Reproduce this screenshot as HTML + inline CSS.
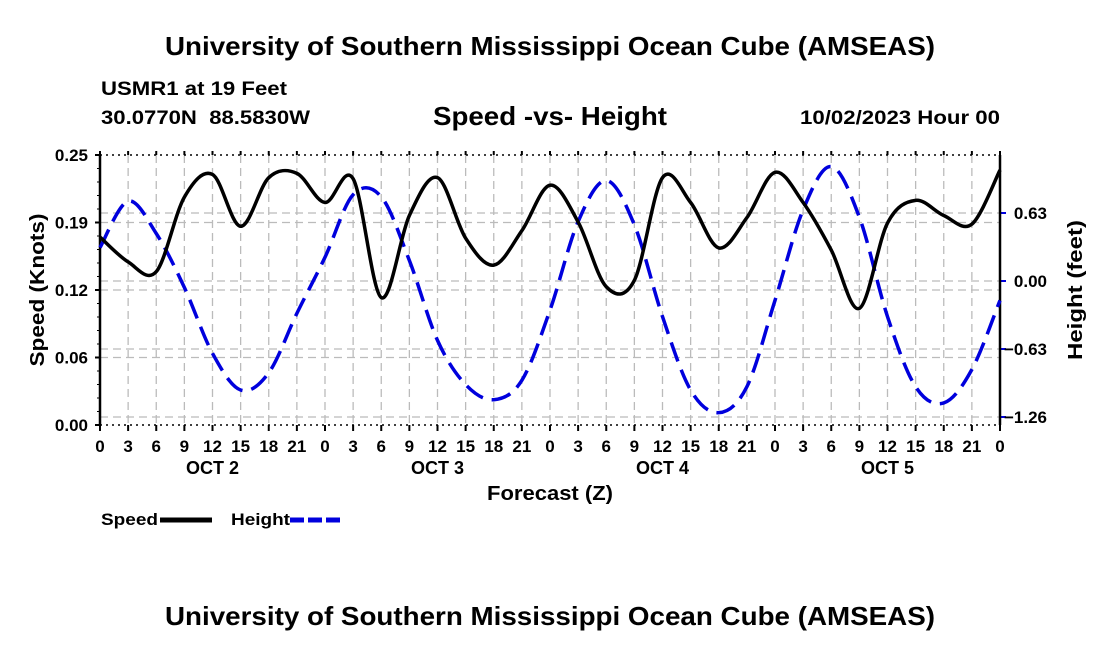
<!DOCTYPE html>
<html><head><meta charset="utf-8"><style>
body{margin:0;background:#fff;}
svg{display:block;font-family:"Liberation Sans",sans-serif;font-weight:bold;}
</style></head><body>
<svg id="c" width="1100" height="650" viewBox="0 0 1100 650">
<text x="165" y="55" font-size="26" textLength="770" lengthAdjust="spacingAndGlyphs">University of Southern Mississippi Ocean Cube (AMSEAS)</text>
<text x="101" y="95" font-size="19" textLength="186" lengthAdjust="spacingAndGlyphs">USMR1 at 19 Feet</text>
<text x="101" y="124" font-size="19" textLength="209" lengthAdjust="spacingAndGlyphs" xml:space="preserve">30.0770N  88.5830W</text>
<text x="433" y="125" font-size="26" textLength="234" lengthAdjust="spacingAndGlyphs">Speed -vs- Height</text>
<text x="800" y="124" font-size="19" textLength="200" lengthAdjust="spacingAndGlyphs">10/02/2023 Hour 00</text>
<g id="grid"></g><g id="axes"></g><g id="series"></g>
<text x="487" y="500" font-size="20" textLength="126" lengthAdjust="spacingAndGlyphs">Forecast (Z)</text>
<text transform="translate(44,290) rotate(-90)" font-size="20" text-anchor="middle" textLength="153" lengthAdjust="spacingAndGlyphs">Speed (Knots)</text>
<text transform="translate(1082,290) rotate(-90)" font-size="20" text-anchor="middle" textLength="140" lengthAdjust="spacingAndGlyphs">Height (feet)</text>
<g>
<text x="101" y="525" font-size="17" textLength="57" lengthAdjust="spacingAndGlyphs">Speed</text>
<line x1="160" y1="520" x2="212" y2="520" stroke="#000" stroke-width="5"/>
<text x="231" y="525" font-size="17" textLength="59" lengthAdjust="spacingAndGlyphs">Height</text>
<line x1="290" y1="520" x2="342" y2="520" stroke="#0000dd" stroke-width="5" stroke-dasharray="14,4"/>
</g>
<text x="165" y="625" font-size="26" textLength="770" lengthAdjust="spacingAndGlyphs">University of Southern Mississippi Ocean Cube (AMSEAS)</text>
</svg>
<script>
const hours=[0,3,6,9,12,15,18,21,24,27,30,33,36,39,42,45,48,51,54,57,60,63,66,69,72,75,78,81,84,87,90,93,96];
const speed=[0.174,0.151,0.142,0.211,0.232,0.184,0.229,0.233,0.206,0.228,0.118,0.194,0.229,0.173,0.148,0.180,0.222,0.188,0.128,0.134,0.229,0.206,0.164,0.192,0.234,0.206,0.162,0.108,0.187,0.208,0.194,0.186,0.236];
const height=[0.31,0.74,0.44,-0.06,-0.67,-1.01,-0.85,-0.30,0.22,0.80,0.78,0.19,-0.55,-0.96,-1.10,-0.92,-0.27,0.55,0.93,0.52,-0.33,-1.01,-1.22,-0.98,-0.18,0.66,1.06,0.59,-0.33,-0.98,-1.13,-0.82,-0.18];
const leftTicks=[0,0.0625,0.125,0.1875,0.25];
const leftLabels=["0.00","0.06","0.12","0.19","0.25"];
const rightTicks=[-1.26,-0.63,0,0.63];
const rightLabels=["\u22121.26","\u22120.63","0.00","0.63"];
const xLabels=["0","3","6","9","12","15","18","21"];
const days=["OCT 2","OCT 3","OCT 4","OCT 5"];
const X0=100,X1=1000,YT=155,YB=425;
const xs=h=>X0+(X1-X0)*h/96;
const ys=v=>YB-(YB-YT)*v/0.25;
const yh=v=>281-68*v/0.63;
const NS="http://www.w3.org/2000/svg";
function mk(p,t,a){const e=document.createElementNS(NS,t);for(const k in a)e.setAttribute(k,a[k]);p.appendChild(e);return e;}
const grid=document.getElementById('grid'),axes=document.getElementById('axes'),ser=document.getElementById('series');
for(let h=3;h<96;h+=3){const l=mk(grid,'line',{x1:xs(h),x2:xs(h),y1:YT,y2:YB,stroke:'#bbb','stroke-width':1.3,'stroke-dasharray':'8,5'});
}
leftTicks.forEach((v,i)=>{if(i>0&&i<4){const l=mk(grid,'line',{x1:X0,x2:X1,y1:ys(v),y2:ys(v),stroke:'#bbb','stroke-width':1.3,'stroke-dasharray':'8,5'});
}
const t=mk(axes,'text',{x:X0-12,y:ys(v)+6,'font-size':17,'text-anchor':'end'});t.textContent=leftLabels[i];

mk(axes,'line',{x1:X0-5,x2:X0,y1:ys(v),y2:ys(v),stroke:'#000','stroke-width':2});});
for(let v=0;v<=0.25;v+=0.0125)mk(axes,'line',{x1:X0-3,x2:X0,y1:ys(v),y2:ys(v),stroke:'#000','stroke-width':1});
rightTicks.forEach((v,i)=>{const l=mk(grid,'line',{x1:X0,x2:X1,y1:yh(v),y2:yh(v),stroke:'#bbb','stroke-width':1.3,'stroke-dasharray':'8,5'});

mk(axes,'line',{x1:X1,x2:X1+6,y1:yh(v),y2:yh(v),stroke:'#0000dd','stroke-width':2});
const t=mk(axes,'text',{x:1047,y:yh(v)+6,'font-size':17,'text-anchor':'end'});t.textContent=rightLabels[i];
});
mk(axes,'line',{x1:X0,x2:X1,y1:YT,y2:YT,stroke:'#000','stroke-width':1.5,'stroke-dasharray':'2,4'});
mk(axes,'line',{x1:X0,x2:X1,y1:YB,y2:YB,stroke:'#000','stroke-width':1.5,'stroke-dasharray':'2,4'});
mk(axes,'line',{x1:X0,x2:X0,y1:YT,y2:YB,stroke:'#000','stroke-width':2.5});
mk(axes,'line',{x1:X1,x2:X1,y1:YT,y2:YB,stroke:'#000','stroke-width':2.5});
for(let h=0;h<=96;h+=3){mk(axes,'line',{x1:xs(h),x2:xs(h),y1:YB,y2:YB+6,stroke:'#000','stroke-width':2});mk(axes,'line',{x1:xs(h),x2:xs(h),y1:YT-4,y2:YT,stroke:'#000','stroke-width':2});
const t=mk(axes,'text',{x:xs(h),y:452,'font-size':17,'text-anchor':'middle'});t.textContent=xLabels[(h/3)%8];
}
days.forEach((d,i)=>{const t=mk(axes,'text',{x:xs(12+24*i),y:474,'font-size':18,'text-anchor':'middle'});t.textContent=d;
});
function path(pts){let d='M'+pts[0][0]+','+pts[0][1];for(let i=0;i<pts.length-1;i++){const p0=pts[i-1]||pts[i],p1=pts[i],p2=pts[i+1],p3=pts[i+2]||p2;
d+=' C'+(p1[0]+(p2[0]-p0[0])/6)+','+(p1[1]+(p2[1]-p0[1])/6)+' '+(p2[0]-(p3[0]-p1[0])/6)+','+(p2[1]-(p3[1]-p1[1])/6)+' '+p2[0]+','+p2[1];}return d;}
const hp=mk(ser,'path',{d:path(hours.map((h,i)=>[xs(h),yh(height[i])])),fill:'none',stroke:'#0000dd','stroke-width':3.5,'stroke-dasharray':'20,9'});

const sp=mk(ser,'path',{d:path(hours.map((h,i)=>[xs(h),ys(speed[i])])),fill:'none',stroke:'#000','stroke-width':3.5});

</script>
</body></html>
